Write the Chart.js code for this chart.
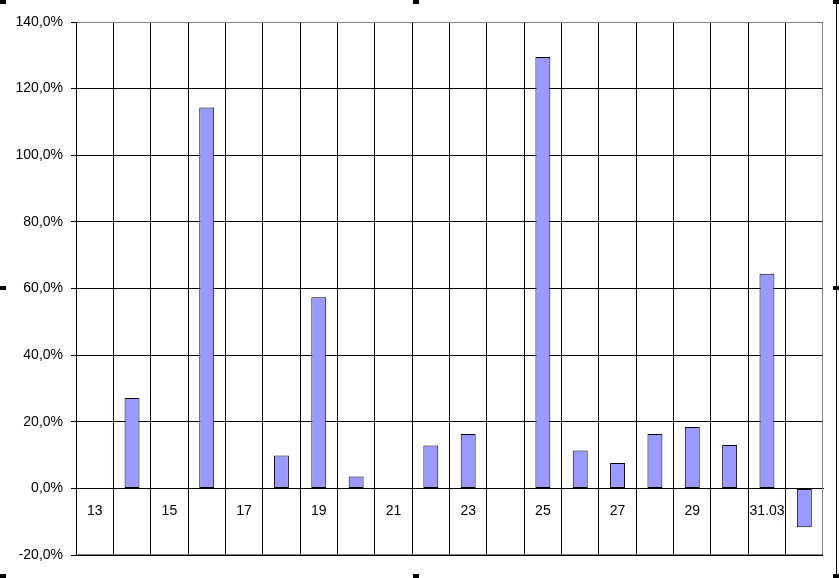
<!DOCTYPE html>
<html>
<head>
<meta charset="utf-8">
<script src="https://cdn.jsdelivr.net/npm/chart.js@4/dist/chart.umd.min.js"></script>
<style>
  html, body { margin: 0; padding: 0; background: #fff; }
  #wrap { width: 839px; height: 578px; position: relative; }
</style>
</head>
<body>
<div id="wrap"><canvas id="c" width="839" height="578"></canvas></div>
<script>
// Categories (days), one per bar slot
const categories = ['13','14','15','16','17','18','19','20','21','22','23','24','25','26','27','28','29','30','31.03','01'];
// Series values in percent (null = no bar)
const values = [null, 27.1, null, 114.3, null, 9.9, 57.4, 3.6, null, 12.9, 16.3, null, 129.5, 11.4, 7.6, 16.3, 18.4, 13.0, 64.4, -11.7];
// Y axis range / ticks (percent)
const yMin = -20, yMax = 140, yStep = 20;

const framePlugin = {
  id: 'frame',
  afterDraw(chart) {
    const ctx = chart.ctx, a = chart.chartArea;
    ctx.save();
    ctx.strokeStyle = '#808080';
    ctx.lineWidth = 1;
    const l = Math.round(a.left) + 0.5, r = Math.round(a.right) - 0.5;
    const t = Math.round(a.top) + 0.5, b = Math.round(a.bottom) - 0.5;
    ctx.beginPath();
    ctx.moveTo(l + 1, t); ctx.lineTo(r, t); ctx.lineTo(r, b); ctx.lineTo(l + 1, b);
    ctx.stroke();
    // outer chart border on the right and selection handles
    const H = chart.height;
    ctx.strokeStyle = '#000';
    ctx.beginPath(); ctx.moveTo(836.5, 0); ctx.lineTo(836.5, H); ctx.stroke();
    ctx.fillStyle = '#000';
    const hs = [[0,0],[413,0],[833,0],[0,286],[833,286],[0,574],[413,574],[833,574]];
    hs.forEach(([x,y]) => ctx.fillRect(x, y, 6, 4));
    ctx.restore();
  }
};

new Chart(document.getElementById('c'), {
  type: 'bar',
  data: {
    labels: categories,
    datasets: [{
      data: values,
      backgroundColor: '#9999FF',
      borderColor: '#000000',
      borderWidth: 1,
      borderSkipped: false,
      barPercentage: 0.4,
      categoryPercentage: 1.0
    }]
  },
  options: {
    responsive: false,
    animation: false,
    devicePixelRatio: 1,
    layout: { padding: { top: 22, right: 16, bottom: 23, left: 0 } },
    plugins: { legend: { display: false }, tooltip: { enabled: false } },
    scales: {
      x: {
        position: { y: 0 },
        grid: { color: '#000', offset: true, drawTicks: false, lineWidth: 1 },
        border: { color: '#000', width: 1 },
        ticks: {
          autoSkip: false, maxRotation: 0, padding: 14,
          color: '#000',
          font: { family: 'Liberation Sans, Arial, sans-serif', size: 14 },
          callback: function(v, i) { return (i % 2 === 0) ? this.getLabelForValue(v) : ''; }
        }
      },
      y: {
        min: yMin, max: yMax,
        afterFit: s => { s.width = 76; },
        grid: { color: '#000', lineWidth: 1, tickLength: 5 },
        border: { color: '#000', width: 1 },
        ticks: {
          stepSize: yStep, padding: 8, color: '#000',
          font: { family: 'Liberation Sans, Arial, sans-serif', size: 14 },
          callback: v => v.toFixed(1).replace('.', ',') + '%'
        }
      }
    }
  },
  plugins: [framePlugin]
});
</script>
</body>
</html>
